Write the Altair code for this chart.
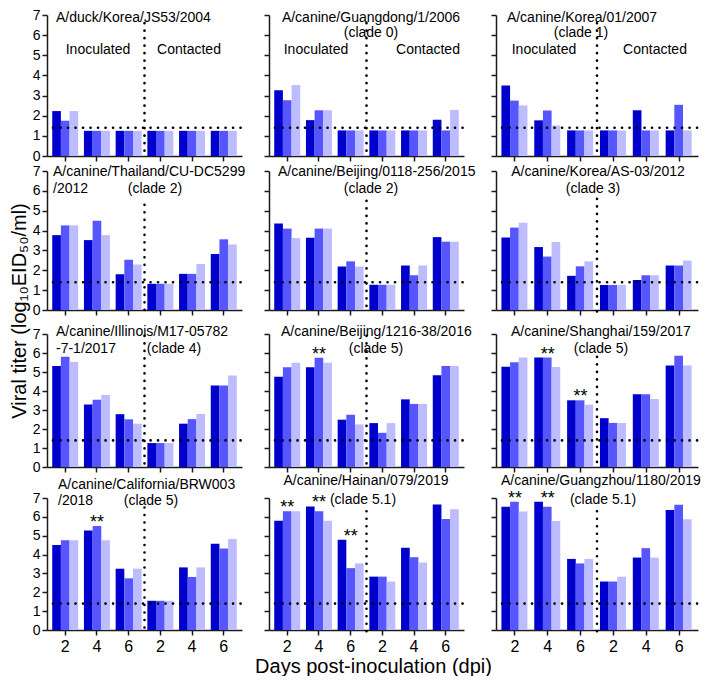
import altair as alt
import pandas as pd

# ---------------- data ----------------
days = ["2", "4", "6"]
phases = ["Inoculated", "Contacted"]
series = ["s1", "s2", "s3"]
colors = ["#0000CC", "#5656FF", "#BCBCFF"]
detection_limit = 1.4
y_ticks = [0, 1, 2, 3, 4, 5, 6, 7]

titer_duck_JS53 = [[2.23, 1.75, 2.23], [1.25, 1.25, 1.25], [1.25, 1.25, 1.25],
                   [1.25, 1.25, 1.25], [1.25, 1.25, 1.25], [1.25, 1.25, 1.25]]
titer_guangdong_1 = [[3.26, 2.77, 3.52], [1.78, 2.27, 2.27], [1.27, 1.27, 1.27],
                     [1.27, 1.27, 1.27], [1.27, 1.27, 1.27], [1.80, 1.27, 2.29]]
titer_korea_01 = [[3.50, 2.75, 2.51], [1.77, 2.26, 1.51], [1.27, 1.27, 1.27],
                  [1.27, 1.27, 1.27], [2.27, 1.27, 1.27], [1.27, 2.54, 1.27]]
titer_thailand = [[3.77, 4.26, 4.26], [3.52, 4.50, 3.77], [1.80, 2.53, 2.29],
                  [1.32, 1.32, 1.32], [1.82, 1.82, 2.32], [2.82, 3.56, 3.30]]
titer_beijing_0118 = [[4.35, 4.10, 3.62], [3.64, 4.10, 4.10], [2.19, 2.45, 2.19],
                      [1.27, 1.27, 1.27], [2.24, 1.75, 2.24], [3.67, 3.44, 3.44]]
titer_korea_as03 = [[3.65, 4.15, 4.39], [3.17, 2.69, 3.43], [1.72, 2.20, 2.45],
                    [1.26, 1.26, 1.26], [1.51, 1.75, 1.75], [2.24, 2.24, 2.49]]
titer_illinois = [[5.31, 5.80, 5.52], [3.29, 3.54, 3.79], [2.78, 2.51, 2.28],
                  [1.26, 1.26, 1.26], [2.28, 2.52, 2.79], [4.29, 4.29, 4.81]]
titer_beijing_1216 = [[4.75, 5.25, 5.49], [5.25, 5.75, 5.49], [2.49, 2.75, 2.24],
                      [2.31, 1.80, 2.31], [3.56, 3.32, 3.32], [4.83, 5.32, 5.32]]
titer_shanghai = [[5.28, 5.51, 5.76], [5.76, 5.76, 5.26], [3.51, 3.51, 3.28],
                  [2.57, 2.32, 2.32], [3.83, 3.83, 3.58], [5.34, 5.85, 5.34]]
titer_california = [[4.51, 4.76, 4.76], [5.27, 5.51, 4.76], [3.25, 2.74, 3.25],
                    [1.55, 1.55, 1.55], [3.32, 2.81, 3.32], [4.57, 4.32, 4.83]]
titer_hainan = [[5.80, 6.30, 6.30], [6.55, 6.30, 5.80], [4.79, 3.28, 3.53],
                [2.83, 2.83, 2.57], [4.36, 3.86, 3.58], [6.66, 5.88, 6.40]]
titer_guangzhou = [[6.53, 6.80, 6.28], [6.80, 6.53, 5.78], [3.77, 3.53, 3.77],
                   [2.57, 2.57, 2.83], [3.84, 4.34, 3.84], [6.36, 6.64, 5.87]]

titers = [titer_duck_JS53, titer_guangdong_1, titer_korea_01,
          titer_thailand, titer_beijing_0118, titer_korea_as03,
          titer_illinois, titer_beijing_1216, titer_shanghai,
          titer_california, titer_hainan, titer_guangzhou]

# groups (index into the six day groups) marked with "**"
significant = [[], [], [], [], [], [], [], [1], [1, 2], [1], [0, 1, 2], [0, 1]]

# panel title lines: (text, x px, y px relative to plot top, align)
title_lines = [
    [("A/duck/Korea/JS53/2004", 9, 3, "left")],
    [("A/canine/Guangdong/1/2006", 102, 3, "center"), ("(clade 0)", 102, 18, "center")],
    [("A/canine/Korea/01/2007", 86, 3, "center"), ("(clade 1)", 85, 18, "center")],
    [("A/canine/Thailand/CU-DC5299", 6, 1, "left"), ("/2012", 6, 18, "left"),
     ("(clade 2)", 108, 18, "center")],
    [("A/canine/Beijing/0118-256/2015", 9, 1, "left"), ("(clade 2)", 102, 18, "center")],
    [("A/canine/Korea/AS-03/2012", 102, 1, "center"), ("(clade 3)", 97, 18, "center")],
    [("A/canine/Illinois/M17-05782", 9, -2, "left"), ("-7-1/2017", 9, 15, "left"),
     ("(clade 4)", 127, 15, "center")],
    [("A/canine/Beijing/1216-38/2016", 12, -2, "left"), ("(clade 5)", 107, 15, "center")],
    [("A/canine/Shanghai/159/2017", 15, -2, "left"), ("(clade 5)", 105, 15, "center")],
    [("A/canine/California/BRW003", 11, -13.5, "left"), ("/2018", 11, 3, "left"),
     ("(clade 5)", 104, 3, "center")],
    [("A/canine/Hainan/079/2019", 97, -17, "center"), ("(clade 5.1)", 94, 1.5, "center")],
    [("A/canine/Guangzhou/1180/2019", 5, -17, "left"), ("(clade 5.1)", 107, 1.5, "center")],
]
phase_label_x = [(51, 142), (47, 159), (48, 159)]
vline_top = [6.6, 6.6, 6.6, 5.3, 5.5, 5.6, 6.9, 6.9, 5.8, 6.5, 6.3, 6.3]

# ---------------- layout ----------------
FONT = "Liberation Sans, Arial, DejaVu Sans"
W = [195, 200, 202]        # view widths per column
RW = [195, 195, 202]       # x range per column
H = [141, 139, 133, 132]   # plot heights per row
HH = [146, 153, 154, 132]  # cell heights per row
group_keys = [f"{p} {d}" for p in phases for d in days]
DOT = dict(strokeDash=[0.1, 7.4], strokeCap="round", strokeWidth=2.6, color="black")
one = pd.DataFrame({"k": [0]})


def make_panel(i):
    r, c = divmod(i, 3)
    vals = titers[i]
    rows = []
    for gi, key in enumerate(group_keys):
        for si, s in enumerate(series):
            rows.append({"g": key, "s": s, "v": vals[gi][si]})
    df = pd.DataFrame(rows)

    x_axis_kw = dict(labels=(r == 3), labelExpr="split(datum.value, ' ')[1]", labelAngle=0,
                     labelFontSize=16, labelPadding=3, tickSize=5, labelOverlap=False,
                     offset=-(HH[r] - H[r]))
    x_title = None
    if i == 10:
        x_title = "Days post-inoculation (dpi)"
        x_axis_kw.update(titleX=104, titleY=36, titleBaseline="middle", titleAlign="center",
                         titleFontSize=20)
    x_enc = alt.X("g:N", title=x_title,
                  scale=alt.Scale(domain=group_keys, range=[0, RW[c]],
                                  paddingInner=0.18, paddingOuter=0.165),
                  axis=alt.Axis(**x_axis_kw))

    y_axis_kw = dict(values=y_ticks, tickCount=8, labels=(c == 0), labelFontSize=14,
                     labelPadding=2, tickSize=5, labelOverlap=False, labelBound=False,
                     labelFlush=False)
    y_title = None
    if i == 3:
        y_title = "Viral titer (log\u2081\u2080EID\u2085\u2080/ml)"
        y_axis_kw.update(titleX=-28, titleY=139.5, titleAngle=270, titleBaseline="middle",
                         titleAlign="center", titleFontSize=20)
    y_enc = alt.Y("v:Q", title=y_title,
                  scale=alt.Scale(domain=[0, 7], range=[H[r], 0], nice=False),
                  axis=alt.Axis(**y_axis_kw))

    bars = alt.Chart(df).mark_bar().encode(
        x=x_enc,
        xOffset=alt.XOffset("s:N", scale=alt.Scale(domain=series, paddingInner=0,
                                                   paddingOuter=0)),
        y=y_enc,
        color=alt.Color("s:N", scale=alt.Scale(domain=series, range=colors), legend=None),
    )
    hdf = pd.DataFrame({"v": [detection_limit]})
    hline = alt.Chart(hdf).mark_rule(**DOT).encode(
        x=alt.value(6), x2=alt.value(RW[c]), y=y_enc)
    vdf = pd.DataFrame({"v": [vline_top[i]], "v2": [-0.1]})
    vline = alt.Chart(vdf).mark_rule(**DOT).encode(
        x=alt.value(RW[c] / 2), y=y_enc, y2="v2:Q")

    layers = [bars, hline, vline]
    for text, px, py, align in title_lines[i]:
        layers.append(alt.Chart(one).mark_text(text=text, fontSize=14, align=align,
                                               baseline="middle").encode(
            x=alt.value(px), y=alt.value(py)))
    if r == 0:
        for text, px in zip(phases, phase_label_x[c]):
            layers.append(alt.Chart(one).mark_text(text=text, fontSize=14, align="center",
                                                   baseline="middle").encode(
                x=alt.value(px), y=alt.value(35)))
    if significant[i]:
        sdf = pd.DataFrame({"g": [group_keys[g] for g in significant[i]],
                            "v": [max(vals[g]) for g in significant[i]]})
        layers.append(alt.Chart(sdf).mark_text(text="**", fontSize=18, baseline="middle",
                                               dy=-3).encode(x=x_enc, y=y_enc))
    return alt.layer(*layers).properties(width=W[c], height=HH[r])


panels = [make_panel(i) for i in range(12)]

chart = alt.concat(*panels, columns=3, spacing={"row": 10, "column": 27},
                   bounds="flush").properties(padding=0).configure_view(
    stroke=None
).configure_axis(
    grid=False, domainColor="#1a1a1a", domainWidth=1.5, tickColor="#1a1a1a", tickWidth=1.5,
    labelColor="black", labelFont=FONT, titleFont=FONT, titleFontWeight="normal",
    titleColor="black", labelOverlap=False
).configure_text(font=FONT, color="black")

chart.save("out.html", embed_options={"renderer": "svg", "actions": False})
